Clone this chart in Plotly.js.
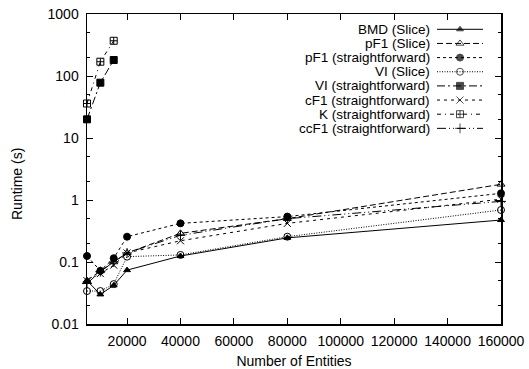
<!DOCTYPE html>
<html><head><meta charset="utf-8">
<script src="https://cdn.plot.ly/plotly-3.0.1.min.js"></script>
<style>html,body{margin:0;padding:0;background:#fff}</style>
</head><body><div id="chart" style="width:529px;height:369px"></div>
<script>
// Data (runtime in seconds)
const entities = [5000, 10000, 15000, 20000, 40000, 80000, 160000];
const entitiesShort = [5000, 10000, 15000];
const bmdSlice   = [0.050, 0.030, 0.042, 0.074, 0.125, 0.245, 0.475];
const pf1Slice   = [0.050, 0.072, 0.100, 0.140, 0.290, 0.500, 1.79];
const pf1Straight= [0.125, 0.072, 0.115, 0.256, 0.420, 0.540, 1.28];
const viSlice    = [0.034, 0.034, 0.044, 0.122, 0.130, 0.256, 0.69];
const viStraight = [20, 78, 181];
const cf1Straight= [0.050, 0.065, 0.089, 0.140, 0.220, 0.420, 1.03];
const kStraight  = [36, 170, 370];
const ccf1Straight=[0.045, 0.070, 0.100, 0.140, 0.270, 0.500, 0.95];
const seriesNames = ["BMD (Slice)", "pF1 (Slice)", "pF1 (straightforward)", "VI (Slice)",
  "VI (straightforward)", "cF1 (straightforward)", "K (straightforward)", "ccF1 (straightforward)"];
const yTitle = "Runtime (s)";
const xTitle = "Number of Entities";

const series = [
  {x: entities, y: bmdSlice, dash: "solid", symbol: "triangle-up", size: 6},
  {x: entities, y: pf1Slice, dash: "6px,3px", symbol: "triangle-up-open", size: 7},
  {x: entities, y: pf1Straight, dash: "3px,3px", symbol: "circle", size: 7},
  {x: entities, y: viSlice, dash: "1px,1.5px", symbol: "circle-open", size: 7},
  {x: entitiesShort, y: viStraight, dash: "8px,3px,2px,3px", symbol: "square", size: 7},
  {x: entities, y: cf1Straight, dash: "3px,4px", symbol: "x-thin-open", size: 7},
  {x: entitiesShort, y: kStraight, dash: "4px,4px,1px,4px", symbol: "square-cross-open", size: 7},
  {x: entities, y: ccf1Straight, dash: "9px,3px,1px,3px,1px,3px", symbol: "cross-thin-open", size: 7}
];

const FONT = "Liberation Sans, Arial, Helvetica, sans-serif";
const traces = [];
series.forEach((s, i) => {
  traces.push({
    x: s.x, y: s.y, name: seriesNames[i], type: "scatter", mode: "lines+markers",
    line: {color: "#000", width: 1, dash: s.dash},
    marker: {symbol: s.symbol, size: s.size, color: "#000", line: {color: "#000", width: 1}},
    cliponaxis: false, showlegend: false
  });
});

// Manual legend (text right-aligned, sample on the right), layout in pixel-space overlay axes
const L = 87, R = 501, T = 14, B = 324;
const legendTop = 29.3, legendStep = 14.15;
const annotations = [];
series.forEach((s, i) => {
  const yy = legendTop + i * legendStep;
  traces.push({
    x: [437, 460, 483], y: [yy, yy, yy], xaxis: "x2", yaxis: "y2", type: "scatter",
    mode: "lines+markers", showlegend: false, hoverinfo: "skip", cliponaxis: false,
    line: {color: "#000", width: 1, dash: s.dash},
    marker: {symbol: s.symbol, size: [0, s.size, 0], color: "#000", line: {color: "#000", width: 1}}
  });
  annotations.push({
    xref: "x2", yref: "y2", x: 431, y: yy, text: seriesNames[i], showarrow: false,
    xanchor: "right", yanchor: "middle", borderpad: 0,
    font: {family: FONT, size: 13.5, color: "#000"}
  });
});
annotations.push({
  xref: "paper", yref: "paper", x: (17 - L) / (R - L), y: (B - 184) / (B - T), text: yTitle,
  textangle: -90, showarrow: false, xanchor: "center", yanchor: "middle",
  font: {family: FONT, size: 14, color: "#000"}
});

const layout = {
  width: 529, height: 369,
  margin: {l: L, r: 529 - R, t: T, b: 369 - B, pad: 0},
  paper_bgcolor: "#fff", plot_bgcolor: "#fff",
  font: {family: FONT, size: 14, color: "#000"},
  showlegend: false,
  xaxis: {
    range: [5000, 160000], tick0: 0, dtick: 20000, tickformat: "d", exponentformat: "none",
    ticks: "inside", ticklen: 6,
    tickcolor: "#000", tickwidth: 1, showgrid: false, zeroline: false,
    showline: true, linecolor: "#000", linewidth: 1.5, mirror: "ticks",
    tickfont: {family: FONT, size: 14, color: "#000"}, ticklabelstandoff: 4,
    title: {text: xTitle, font: {family: FONT, size: 14, color: "#000"}, standoff: 10}
  },
  yaxis: {
    type: "log", range: [-2, 3], dtick: 1, exponentformat: "none",
    ticks: "inside", ticklen: 6, tickcolor: "#000", tickwidth: 1,
    minor: {ticks: "inside", ticklen: 3, dtick: "D2", tickcolor: "#000", showgrid: false},
    showgrid: false, zeroline: false, showline: true, linecolor: "#000", linewidth: 1.5,
    mirror: "ticks", tickfont: {family: FONT, size: 14, color: "#000"}, ticklabelstandoff: 4
  },
  xaxis2: {overlaying: "x", range: [L, R], visible: false, fixedrange: true},
  yaxis2: {overlaying: "y", range: [B, T], visible: false, fixedrange: true},
  annotations: annotations
};

Plotly.newPlot("chart", traces, layout, {staticPlot: true, displayModeBar: false});
</script></body></html>
